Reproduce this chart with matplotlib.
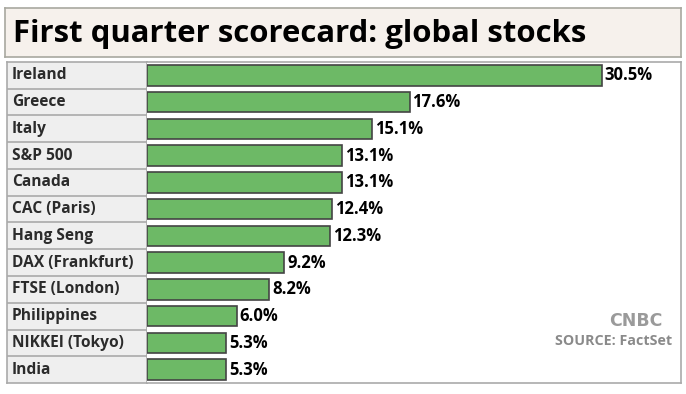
import matplotlib
matplotlib.use("Agg")
import matplotlib.pyplot as plt

categories = ["Ireland", "Greece", "Italy", "S&P 500", "Canada", "CAC (Paris)",
              "Hang Seng", "DAX (Frankfurt)", "FTSE (London)", "Philippines",
              "NIKKEI (Tokyo)", "India"]
values = [30.5, 17.6, 15.1, 13.1, 13.1, 12.4, 12.3, 9.2, 8.2, 6.0, 5.3, 5.3]
title = "First quarter scorecard: global stocks"
source = "SOURCE: FactSet"

W, H = 686, 394
fig = plt.figure(figsize=(W / 100, H / 100), dpi=100)
fig.patch.set_facecolor("white")

def px(x0, y0, x1, y1):
    return [x0 / W, 1 - y1 / H, (x1 - x0) / W, (y1 - y0) / H]

# Title box
tax = fig.add_axes(px(5, 8, 681, 57))
tax.set_xlim(0, 1); tax.set_ylim(0, 1)
tax.set_facecolor("#f6f1ec")
for s in tax.spines.values():
    s.set_color("#a8a8a0"); s.set_linewidth(1.2)
tax.set_xticks([]); tax.set_yticks([])
tax.text(0.012, 0.47, title, fontsize=22.4, fontweight="bold", family="Open Sans",
         va="center", ha="left", color="black")

n = len(categories)
# Label column
lax = fig.add_axes(px(7, 62, 147, 383))
lax.set_xlim(0, 1); lax.set_ylim(n, 0)
lax.set_facecolor("#efefef")
lax.set_xticks([]); lax.set_yticks([])
for s in lax.spines.values():
    s.set_color("#aaaaaa"); s.set_linewidth(1.2)
for i, c in enumerate(categories):
    lax.text(0.035, i + 0.5, c, fontsize=11.2, fontweight="bold", family="Open Sans",
             color="#2b2b2b", va="center", ha="left")
    if i > 0:
        lax.axhline(i, color="#aaaaaa", lw=1.2)

# Bar area
ax = fig.add_axes(px(147, 62, 681, 383))
xmax = (681 - 147) / ((602 - 147) / 30.5)
ax.set_xlim(0, xmax); ax.set_ylim(n, 0)
ax.set_xticks([]); ax.set_yticks([])
for k, s in ax.spines.items():
    s.set_color("#aaaaaa"); s.set_linewidth(1.2)
ax.spines["left"].set_visible(False)
ypos = [i + 0.5 for i in range(n)]
ax.barh(ypos, values, height=0.76, color="#6db966", edgecolor="#444444", linewidth=1.2)
for y, v in zip(ypos, values):
    ax.annotate(f"{v:.1f}%", (v, y), xytext=(2, 0), textcoords="offset points",
                fontsize=12, fontweight="bold", family="Open Sans",
                va="center", ha="left", color="black")

fig.text(662 / W, 1 - 321 / H, "CNBC", fontsize=12.5, fontweight="heavy",
         family="DejaVu Sans", color="#9a9a9a", ha="right", va="center")
fig.text(672 / W, 1 - 341 / H, source, fontsize=10.3, fontweight="bold",
         family="Open Sans", color="#8a8a8a", ha="right", va="center")

fig.savefig("out.png", dpi=100)
